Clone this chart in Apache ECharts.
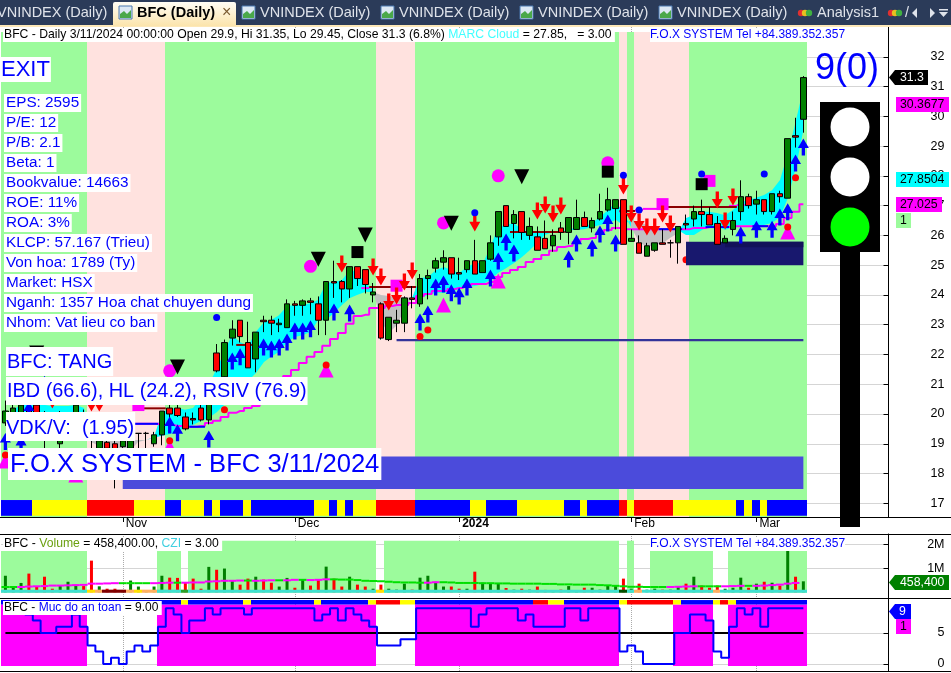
<!DOCTYPE html>
<html>
<head>
<meta charset="utf-8">
<title>BFC (Daily)</title>
<style>
html, body { margin: 0; padding: 0; background: #fff; }
#chart { width: 951px; height: 673px; }
</style>
<script src="https://cdn.jsdelivr.net/npm/echarts@6/dist/echarts.min.js"></script>
</head>
<body>
<div id="chart"></div>
<script>
// daily bars, oldest first. tail of the list is 3/11/2024
const opens = [19.7,19.8,19.95,20.15,20.3,19.95,19.8,19.0,19.2,19.8,19.95,19.65,18.85,19.05,19.0,18.9,18.85,19.35,19.35,19.0,19.3,20.2,20.2,19.9,19.85,20.2,19.8,22.05,21.25,22.55,23.15,22.4,21.85,23.15,23.15,23.0,22.9,23.7,23.65,23.8,23.7,23.15,24.45,24.45,24.2,24.95,24.85,24.0,23.7,22.5,23.05,23.05,23.9,23.7,24.55,24.9,25.1,25.25,24.75,24.85,25.15,24.75,25.2,25.95,27.0,26.4,26.8,26.0,25.95,25.9,25.65,26.25,26.1,26.2,26.6,26.25,26.55,26.85,26.9,27.2,25.8,25.75,25.3,25.5,25.75,25.75,25.75,26.4,26.55,26.8,26.7,26.4,25.75,26.2,26.8,27.3,27.05,27.2,26.8,27.4,27.25,29.35,29.9];
const highs = [20.45,20.35,20.45,20.25,20.4,20.1,19.95,20.1,20.0,20.55,20.15,19.75,19.25,19.15,19.1,19.25,19.25,19.35,19.4,19.4,20.1,20.35,20.35,20.05,20.05,20.4,21.15,22.35,22.5,23.15,23.15,23.1,22.75,23.3,23.3,23.2,23.85,23.8,23.85,23.9,23.95,24.45,25.15,24.5,24.95,24.95,24.85,24.4,23.75,23.25,23.5,23.95,24.3,24.7,24.85,25.25,25.5,25.25,25.25,25.15,25.85,25.15,26.0,26.8,27.0,26.85,26.8,26.6,26.3,26.5,26.2,26.45,26.6,27.2,26.8,26.6,27.4,27.6,27.2,27.2,26.2,26.0,25.75,25.75,26.2,25.85,26.3,26.7,27.0,27.2,26.95,26.65,26.0,26.8,27.85,27.4,27.5,27.2,27.4,27.5,29.25,29.95,31.35];
const lows = [19.6,19.7,19.8,19.75,19.8,18.85,19.15,18.8,19.1,19.65,19.25,18.85,18.8,18.75,17.5,18.7,18.75,18.85,18.85,18.9,18.95,19.85,19.9,19.45,19.65,19.75,19.65,21.4,21.15,22.3,22.4,21.55,21.4,22.75,22.65,22.75,22.9,23.3,23.3,23.35,22.65,22.65,23.9,23.75,23.9,24.3,24.05,23.75,22.5,22.45,22.75,22.75,23.55,23.6,23.85,24.75,24.85,24.55,24.5,24.75,24.7,24.75,25.15,25.65,26.3,25.9,25.85,25.85,25.5,25.55,25.45,25.85,25.7,26.2,26.3,26.1,26.5,26.8,26.2,25.7,25.8,25.4,25.3,25.45,25.7,25.25,25.05,26.2,26.3,26.3,26.35,25.7,25.75,26.0,26.5,26.9,26.7,26.7,26.7,27.1,27.25,28.95,29.45];
const closes = [20.1,20.2,20.3,19.85,19.9,19.45,19.35,19.15,19.85,20.3,19.45,19.15,19.1,18.85,18.45,19.1,19.1,19.35,19.35,19.3,20.1,20.0,19.95,19.5,19.8,19.8,20.95,21.45,22.4,22.85,22.6,21.55,22.75,23.1,23.05,23.05,23.7,23.65,23.8,23.75,23.15,24.45,24.4,24.2,24.95,24.55,24.35,24.1,22.55,23.25,23.15,23.9,23.85,24.55,24.65,25.15,25.25,24.7,24.7,25.15,24.7,25.15,25.75,26.8,26.3,26.7,26.1,26.3,25.5,25.55,26.0,26.1,26.6,26.6,26.3,26.5,26.8,27.2,27.2,25.7,25.9,25.4,25.65,25.75,25.7,25.75,26.3,26.35,26.8,26.7,26.35,25.7,25.9,26.5,27.3,27.0,27.2,26.8,27.4,27.3,29.25,29.3,31.3];

// MARC cloud edges, fast above slow paints cyan, below paints grey
const cloudFast = [19.97,20.14,20.30,20.34,20.34,20.30,20.27,20.27,20.27,20.30,20.20,19.06,18.93,18.79,18.73,18.73,18.79,19.06,19.13,19.23,20.07,20.17,20.20,20.14,20.20,20.54,20.98,21.55,22.05,22.65,22.42,22.29,22.76,23.09,23.16,23.32,23.63,23.66,23.66,23.73,23.83,24.40,24.43,24.50,24.84,24.77,24.40,24.17,23.09,22.72,22.99,23.49,23.90,24.57,24.60,24.84,24.94,24.84,24.74,24.94,25.07,25.07,25.58,26.28,26.35,26.42,26.18,26.11,26.08,26.11,26.11,26.15,26.18,26.28,26.28,26.42,26.62,26.85,27.12,26.79,26.28,25.78,25.61,25.68,25.74,25.91,26.08,26.58,26.68,26.79,26.79,26.75,26.68,26.85,27.12,27.19,27.26,27.36,27.52,27.86,28.77,29.87,30.88];
const cloudSlow = [19.63,19.63,19.63,19.60,19.53,19.47,19.43,19.40,19.37,19.33,19.27,19.27,19.23,19.20,19.17,19.13,19.13,19.13,19.13,19.20,19.27,19.33,19.43,19.53,19.63,19.77,19.87,20.07,20.30,20.57,20.84,21.11,21.38,21.75,21.92,22.09,22.42,22.59,22.65,22.76,23.16,23.16,23.39,23.66,23.90,24.00,24.10,24.10,24.00,23.96,23.93,23.93,23.90,23.90,24.00,24.07,24.07,24.10,24.20,24.27,24.30,24.37,24.50,24.74,24.90,25.07,25.27,25.51,25.74,26.01,26.11,26.11,26.18,26.18,26.21,26.28,26.35,26.42,26.52,26.35,26.52,26.45,26.35,26.25,26.21,26.18,26.18,26.01,26.01,26.18,26.28,26.31,26.18,26.28,26.35,26.35,26.35,26.35,26.42,26.62,27.26,28.30,29.47];

// stepped magenta average, nothing readable before bar 17
const stepAverage = [null,null,null,null,null,null,null,null,null,null,null,null,null,null,null,null,null,19.67,19.67,19.67,19.63,19.63,19.60,19.57,19.57,19.60,19.70,19.77,19.90,20.04,20.10,20.20,20.27,20.54,20.81,21.04,21.28,21.48,21.71,21.92,22.08,22.29,22.52,22.72,23.03,23.29,23.33,23.56,23.56,23.63,23.66,23.66,23.73,23.96,24.03,24.13,24.13,24.20,24.23,24.30,24.37,24.37,24.43,24.60,24.74,24.84,24.94,25.11,25.21,25.34,25.48,25.61,25.64,25.78,25.88,25.91,26.08,26.18,26.25,26.21,26.21,26.21,26.21,26.21,26.21,26.21,26.21,26.21,26.25,26.25,26.28,26.28,26.28,26.31,26.31,26.31,26.31,26.31,26.31,26.38,26.58,26.79,27.05];

// [first bar, last bar, price]
const resistLevels = [[18,20,20.19],[30,31,22.32],[47,52,24.27],[65,71,26.11],[79,80,26.82],[84,93,26.95]];
const blueLevels = [[17,19,19.67],[24,25,19.57],[84,86,26.21],[90,92,26.28],[96,97,26.31]];
const magentaLevels = [[46,46,24.23],[79,79,26.79],[80,80,26.82],[81,81,26.85],[82,83,26.89],[93,93,26.99],[94,94,27.02]];

// [first bar, last bar, top price, bottom price, kind]
const priceBlocks = [[15,102,18.57,17.48,'block'],[87,102,25.79,25.0,'navy'],[92,102,25.79,25.6,'navyDark'],[50,102,22.52,22.44,'floor']];

// [first bar, last bar, state]
const marketZones = [[0,10,'up'],[11,20,'down'],[21,47,'up'],[48,52,'down'],[53,78,'up'],[79,79,'down'],[80,80,'up'],[81,87,'down'],[88,102,'up']];
const trendStrip = [[0,3,'b'],[4,10,'y'],[11,16,'r'],[17,20,'y'],[21,22,'b'],[23,25,'y'],[26,26,'b'],[27,27,'y'],[28,30,'b'],[31,31,'y'],[32,39,'b'],[40,41,'y'],[42,42,'b'],[43,43,'y'],[44,44,'b'],[45,47,'y'],[48,52,'r'],[53,59,'b'],[60,61,'y'],[62,65,'b'],[66,71,'y'],[72,73,'b'],[74,74,'y'],[75,78,'b'],[79,79,'r'],[80,80,'y'],[81,85,'r'],[86,93,'y'],[94,94,'b'],[95,95,'y'],[96,96,'b'],[97,97,'y'],[98,102,'b']];

// [bar, price]
const buyArrows = [[0,19.08],[2,18.98],[3,20.14],[5,21.0],[21,19.63],[22,19.37],[26,19.16],[29,21.78],[30,21.92],[33,22.25],[34,22.18],[35,22.25],[36,22.42],[37,22.79],[38,22.79],[39,22.86],[42,23.43],[44,23.39],[53,23.09],[54,23.36],[55,24.27],[56,24.37],[57,24.07],[58,23.96],[59,24.27],[62,24.57],[63,25.14],[64,25.78],[65,25.41],[72,25.21],[73,25.74],[75,25.58],[76,26.05],[77,26.42],[78,25.74],[94,26.01],[96,26.21],[98,26.21],[99,26.62],[100,26.79],[101,28.43],[102,28.97]];
const sellArrows = [[6,20.47],[11,20.37],[12,20.37],[43,25.04],[47,24.94],[48,24.60],[49,23.76],[50,23.96],[51,24.43],[52,24.80],[60,26.42],[68,26.82],[69,27.02],[70,26.72],[71,26.99],[79,27.66],[80,26.72],[81,26.45],[82,26.28],[83,26.28],[84,26.72],[85,26.38],[91,27.19],[92,26.48],[93,27.29]];
const upTriangles = [[0,18.42],[9,17.95],[21,18.89],[41,21.48],[56,23.66],[63,24.47],[100,26.11]];
const downTriangles = [[4,22.05],[22,21.58],[40,25.2],[46,26.01],[57,26.41],[66,27.97]];
const magentaCircles = [[21,21.45],[39,24.96],[56,26.42],[63,28.0],[77,28.44]];
const blackSquares = [[45,25.44],[77,28.14],[89,27.72]];
const magentaSquares = [[17,20.3],[50,24.31],[84,27.05],[90,27.83]];
const redDots = [[0,18.62],[21,19.10],[28,20.14],[41,21.65],[53,22.60],[54,22.82],[87,25.18],[100,26.28],[101,27.94]];
const blueDots = [[27,23.24],[60,26.76],[79,28.02],[81,26.85],[89,28.06],[97,28.06]];

// volume pane, millions of shares
const volumes = [0.69,0.22,0.39,0.78,0.25,0.65,0.15,0.29,0.44,0.31,0.26,1.32,0.25,0.15,0.15,0.07,0.49,0.24,0.07,0.24,0.69,0.61,0.60,0.40,0.57,0.15,1.06,0.94,0.99,0.49,0.32,0.57,0.65,0.53,0.40,0.24,0.60,0.19,0.53,0.28,0.53,1.07,0.57,0.24,0.65,0.32,0.24,0.15,0.32,0.15,0.11,0.36,0.11,0.61,0.69,0.44,0.24,0.24,0.15,0.15,0.86,0.40,0.36,0.36,0.18,0.11,0.15,0.11,0.24,0.10,0.08,0.11,0.26,0.07,0.19,0.19,0.11,0.28,0.28,0.57,0.15,0.36,0.11,0.15,0.11,0.11,0.24,0.36,0.65,0.28,0.19,0.28,0.15,0.19,0.61,0.19,0.36,0.44,0.40,0.28,1.74,0.65,0.458];
const volumeAverage = [0.22,0.22,0.22,0.24,0.25,0.26,0.28,0.28,0.29,0.30,0.31,0.36,0.36,0.37,0.38,0.38,0.38,0.38,0.38,0.38,0.39,0.40,0.40,0.40,0.41,0.41,0.45,0.46,0.48,0.48,0.49,0.49,0.48,0.49,0.50,0.50,0.50,0.52,0.52,0.51,0.52,0.54,0.54,0.53,0.53,0.51,0.48,0.47,0.46,0.44,0.42,0.41,0.41,0.40,0.40,0.42,0.42,0.41,0.39,0.39,0.39,0.38,0.38,0.37,0.37,0.36,0.36,0.36,0.36,0.35,0.35,0.33,0.33,0.32,0.32,0.32,0.30,0.29,0.27,0.25,0.23,0.23,0.22,0.22,0.22,0.22,0.23,0.24,0.25,0.25,0.25,0.25,0.25,0.26,0.27,0.27,0.27,0.28,0.30,0.32,0.36,0.39,0.42];
const volumeZones = [[0,10,1.72],[20,22,1.72],[24,47,2.15],[49,78,2.15],[80,80,2.15],[83,90,1.72],[93,102,1.72]];
const cziBand = [[0,10,'t'],[11,11,'y'],[12,12,'o'],[13,15,'d'],[16,16,'o'],[17,17,'y'],[18,19,'o'],[20,22,'t'],[23,23,'g'],[24,47,'t'],[48,48,'y'],[49,78,'t'],[79,79,'k'],[80,80,'t'],[81,81,'o'],[82,90,'t'],[91,91,'o'],[92,102,'t']];

// safety score pane, 0 to 9
const safetyScore = [9,9,9,8,7,5,5,6,6,8,6,3,2,0,1,0,2,3,2,3,6,9,8,5,7,7,9,8,9,9,9,8,9,9,9,9,9,9,9,9,7,8,9,7,9,8,7,6,3,3,3,4,4,9,9,9,9,9,9,9,6,8,9,9,9,9,7,8,6,6,6,6,9,9,7,9,9,9,9,2,3,2,0,0,0,0,5,5,8,8,7,2,1,6,9,8,9,6,9,9,9,9,9];
const safetyMiddle = [5,5,5,5,5,5,5,5,5,5,5,5,5,5,5,5,5,5,5,5,5,5,5,5,5,5,5,5,5,5,5,5,5,5,5,5,5,5,5,5,5,5,5,5,5,5,5,5,5,5,5,5,5,5,5,5,5,5,5,5,5,5,5,5,5,5,5,5,5,5,5,5,5,5,5,5,5,5,5,5,5,5,5,5,5,5,5,5,5,5,5,5,5,5,5,5,5,5,5,5,5,5,5];
const safetyZones = [[0,10,'on'],[20,47,'on'],[53,78,'on'],[86,90,'on'],[93,102,'on']];
const safetyStrip = [[0,22,'b'],[23,23,'y'],[24,30,'b'],[31,31,'y'],[32,39,'b'],[40,40,'y'],[41,46,'b'],[47,47,'y'],[48,50,'r'],[51,52,'y'],[53,67,'b'],[68,69,'r'],[70,71,'y'],[72,78,'b'],[79,79,'y'],[80,85,'r'],[86,86,'y'],[87,90,'b'],[91,91,'y'],[92,92,'r'],[93,93,'y'],[94,102,'b']];

// axis labels
const monthBars = [15,37,58,80,96];
const monthLabels = ['Nov','Dec','2024','Feb','Mar'];
const priceTicks = [17,18,19,20,21,22,23,24,25,26,27,28,29,30,31,32];
const volumeTicks = [1,2];
const safetyTicks = [0,5];

// text
const statLines = ['EPS: 2595','P/E: 12','P/B: 2.1','Beta: 1','Bookvalue: 14663','ROE: 11%','ROA: 3%','KLCP: 57.167 (Trieu)','Von hoa: 1789 (Ty)','Market: HSX','Nganh: 1357 Hoa chat chuyen dung','Nhom: Vat lieu co ban'];
const tabLabels = ['VNINDEX (Daily)','BFC (Daily)','VNINDEX (Daily)','VNINDEX (Daily)','VNINDEX (Daily)','VNINDEX (Daily)','Analysis1'];

const BAR_SLOTS = 113; // 103 real bars + blank room on the right
const FONT = '"Liberation Sans", Arial, sans-serif';
const BLUE = '#0000ff';
const MAGENTA = '#ff00ff';

const zoneColors = { up: '#9cfb9c', down: '#ffe2df', on: '#ff00ff' };
const stripColors = { b: '#0000ff', y: '#ffff00', r: '#ff0000' };
const cziColors = { t: '#40e0d0', y: '#ffe000', o: '#ffb060', d: '#800000', g: '#2aa02a', k: '#005000' };
const blockColors = { block: '#4b4bdb', navy: '#18186e', navyDark: '#12125a', floor: '#333399' };

function runSeries(axis, runs, topOf, bottomOf, fillOf, z) {
    return {
        type: 'custom', xAxisIndex: axis, yAxisIndex: axis, z: z, silent: true, clip: false,
        data: runs.map(r => [r[0], topOf(r)]),
        renderItem(params, api) {
            const r = runs[params.dataIndex];
            const half = api.size([1, 0])[0] / 2;
            const a = api.coord([r[0], topOf(r)]);
            const b = api.coord([r[1], bottomOf(r)]);
            // edges sit about a pixel left of the band, only the outer two stay put
            const x0 = r[0] === 0 ? Math.round(a[0] - half) : Math.round(a[0] - half - 0.8);
            const x1 = r[1] === 102 ? Math.round(b[0] + half) : Math.round(b[0] + half - 0.8);
            return { type: 'rect', shape: { x: x0, y: a[1], width: x1 - x0, height: b[1] - a[1] }, style: { fill: fillOf(r) } };
        }
    };
}

// blocks run from bar centre to bar centre
function blockSeries(z) {
    return {
        type: 'custom', z: z, silent: true, clip: false,
        data: priceBlocks.map(r => [r[0], r[2]]),
        renderItem(params, api) {
            const r = priceBlocks[params.dataIndex];
            const a = api.coord([r[0], r[2]]);
            const b = api.coord([r[1], r[3]]);
            return { type: 'rect', shape: { x: a[0], y: a[1], width: b[0] - a[0], height: b[1] - a[1] }, style: { fill: blockColors[r[4]] } };
        }
    };
}

function levelSeries(levels, color, z) {
    return {
        type: 'custom', z: z, silent: true,
        data: levels.map(r => [r[0], r[2]]),
        renderItem(params, api) {
            const r = levels[params.dataIndex];
            const half = api.size([1, 0])[0] / 2;
            const a = api.coord([r[0], r[2]]);
            const b = api.coord([r[1], r[2]]);
            return { type: 'line', shape: { x1: a[0] - half, y1: a[1], x2: b[0] + half, y2: b[1] }, style: { stroke: color, lineWidth: 2 } };
        }
    };
}

function cloudSeries(z) {
    return {
        type: 'custom', z: z, silent: true,
        data: cloudFast.slice(0, -1).map((v, i) => [i, v]),
        renderItem(params, api) {
            const i = params.dataIndex;
            const a0 = api.coord([i, cloudFast[i]]);
            const a1 = api.coord([i + 1, cloudFast[i + 1]]);
            const b1 = api.coord([i + 1, cloudSlow[i + 1]]);
            const b0 = api.coord([i, cloudSlow[i]]);
            const x0 = Math.round(a0[0]);
            const x1 = Math.round(a1[0]);
            const bull = cloudFast[i] + cloudFast[i + 1] >= cloudSlow[i] + cloudSlow[i + 1];
            return {
                type: 'polygon',
                shape: { points: [[x0, a0[1]], [x1, a1[1]], [x1, b1[1]], [x0, b0[1]]] },
                style: { fill: bull ? '#00ffff' : '#c0c0c0' }
            };
        }
    };
}

function markerSeries(points, symbol, size, color, z) {
    return {
        type: 'scatter', data: points, symbol: symbol, symbolSize: size, z: z, silent: true,
        itemStyle: { color: color, opacity: 1 }
    };
}

function volumeAverageSeries() {
    return {
        type: 'custom', xAxisIndex: 1, yAxisIndex: 1, z: 5, silent: true,
        data: volumeAverage.slice(0, -1).map((v, i) => [i, v]),
        renderItem(params, api) {
            const i = params.dataIndex;
            const half = api.size([1, 0])[0] / 2;
            const a = api.coord([i, volumeAverage[i]]);
            const rising = volumeAverage[i + 1] > volumeAverage[i] || volumeAverage[i] > volumeAverage[Math.max(i - 1, 0)];
            return {
                type: 'line',
                shape: { x1: a[0] - half, y1: a[1], x2: a[0] + half, y2: a[1] },
                style: { stroke: rising ? MAGENTA : '#00e000', lineWidth: 2 }
            };
        }
    };
}

function tag(points, fill, label, textX, textY, textColor) {
    return [
        { type: 'polygon', z: 60, shape: { points: points }, style: { fill: fill } },
        { type: 'text', z: 61, x: textX, y: textY, style: { text: label, font: '12.3px ' + FONT, fill: textColor, verticalAlign: 'middle' } }
    ];
}

function boxedText(label, x, y, size, pad) {
    return {
        type: 'text', z: 50, x: x, y: y,
        style: { text: label, font: size + 'px ' + FONT, fill: BLUE, backgroundColor: '#fff', padding: pad }
    };
}

function tabIcon(x) {
    return [
        { type: 'rect', z: 41, shape: { x: x, y: 6, width: 13, height: 13 }, style: { fill: '#dce8f4', stroke: '#4a78b0', lineWidth: 1 } },
        { type: 'polygon', z: 42, shape: { points: [[x + 1, 18], [x + 1, 14], [x + 5, 11], [x + 8, 14], [x + 12, 10], [x + 12, 18]] }, style: { fill: '#4aa84a' } }
    ];
}

function buildGraphic() {
    const els = [];
    // tab strip
    els.push({ type: 'rect', z: 40, shape: { x: 0, y: 0, width: 951, height: 25 }, style: { fill: '#2b3b59' } });
    els.push({ type: 'rect', z: 40, shape: { x: 0, y: 25, width: 951, height: 2 }, style: { fill: '#fde8b8' } });
    els.push({
        type: 'rect', z: 41, shape: { x: 113, y: 2, width: 123, height: 24, r: [2, 2, 0, 0] },
        style: { fill: new echarts.graphic.LinearGradient(0, 0, 0, 1, [{ offset: 0, color: '#fffdf5' }, { offset: 1, color: '#fbe4ac' }]) }
    });
    const tabX = [-3, 137, 260, 399, 538, 677, 817];
    const iconX = [119, 242, 381, 520, 659];
    iconX.forEach(x => els.push(...tabIcon(x)));
    tabLabels.forEach((t, i) => {
        els.push({
            type: 'text', z: 43, x: tabX[i], y: 13,
            style: { text: t, font: (i === 1 ? 'bold ' : '') + '14.5px ' + FONT, fill: i === 1 ? '#000' : '#dfe3ea', verticalAlign: 'middle' }
        });
    });
    els.push({ type: 'text', z: 43, x: 222, y: 13, style: { text: '\u00d7', font: '16px ' + FONT, fill: '#7a5a30', verticalAlign: 'middle' } });
    [[801, '#e03030'], [805, '#e8c020'], [809, '#40b040'], [891, '#e03030'], [895, '#e8c020'], [899, '#40b040']].forEach(d => {
        els.push({ type: 'circle', z: 42, shape: { cx: d[0], cy: 13, r: 3.2 }, style: { fill: d[1] } });
    });
    els.push({ type: 'text', z: 43, x: 905, y: 13, style: { text: '/', font: '14.5px ' + FONT, fill: '#dfe3ea', verticalAlign: 'middle' } });
    els.push({ type: 'polygon', z: 42, shape: { points: [[912, 13], [917, 8], [917, 18]] }, style: { fill: '#dfe3ea' } });
    els.push({ type: 'polygon', z: 42, shape: { points: [[930, 8], [935, 13], [930, 18]] }, style: { fill: '#dfe3ea' } });
    els.push({ type: 'rect', z: 42, shape: { x: 939, y: 9, width: 9, height: 1.5 }, style: { fill: '#dfe3ea' } });
    els.push({ type: 'polygon', z: 42, shape: { points: [[939, 12], [948, 12], [943.5, 17]] }, style: { fill: '#dfe3ea' } });

    // pane separators
    [517, 534, 598, 671].forEach(y => {
        els.push({ type: 'rect', z: 30, shape: { x: 0, y: y, width: 951, height: 1 }, style: { fill: '#000' } });
    });

    // pane headers
    els.push({
        type: 'text', z: 50, x: 3, y: 28,
        style: {
            text: '{k|BFC - Daily 3/11/2024 00:00:00 Open 29.9, Hi 31.35, Lo 29.45, Close 31.3 (6.8%) }{c|MARC Cloud}{k| = 27.85,   = 3.00 }',
            backgroundColor: '#fff', padding: [1, 0, 1, 1],
            rich: { k: { fill: '#000', fontSize: 12.2, fontFamily: FONT }, c: { fill: '#40ffff', fontSize: 12.2, fontFamily: FONT } }
        }
    });
    els.push(boxedText('F.O.X SYSTEM Tel +84.389.352.357', 650, 28, 12, [1, 0, 1, 0]));
    els.push({
        type: 'text', z: 50, x: 3, y: 537,
        style: {
            text: '{k|BFC - }{v|Volume}{k| = 458,400.00, }{c|CZI}{k| = 3.00 }',
            backgroundColor: '#fff', padding: [1, 0, 1, 1],
            rich: { k: { fill: '#000', fontSize: 12.2, fontFamily: FONT }, v: { fill: '#6aa010', fontSize: 12.2, fontFamily: FONT }, c: { fill: '#40d0e0', fontSize: 12.2, fontFamily: FONT } }
        }
    });
    els.push(boxedText('F.O.X SYSTEM Tel +84.389.352.357', 650, 537, 12, [1, 0, 1, 0]));
    els.push({
        type: 'text', z: 50, x: 3, y: 601,
        style: {
            text: '{k|BFC - }{v|Muc do an toan}{k| = 9.00 }',
            backgroundColor: '#fff', padding: [1, 0, 1, 1],
            rich: { k: { fill: '#000', fontSize: 12, fontFamily: FONT }, v: { fill: BLUE, fontSize: 12, fontFamily: FONT } }
        }
    });

    // left hand info column
    els.push(boxedText('EXIT', 0, 57, 22, [2, 1, 1, 1]));
    statLines.forEach((t, i) => els.push(boxedText(t, 4, 94 + i * 20, 15.3, [1, 2, 2, 2])));
    els.push(boxedText('BFC: TANG', 6, 347, 20, [5, 1, 4, 1]));
    els.push(boxedText('IBD (66.6), HL (24.2), RSIV (76.9)', 6, 377, 19.9, [5, 1, 3, 1]));
    els.push(boxedText('VDK/V:  (1.95)', 6, 412, 20, [6, 1, 3, 0]));
    els.push(boxedText('F.O.X SYSTEM - BFC 3/11/2024', 8, 448, 25.6, [4, 2, 2, 2]));

    // signal
    els.push({ type: 'text', z: 50, x: 815, y: 51, style: { text: '9(0)', font: '36px ' + FONT, fill: BLUE } });
    els.push({ type: 'rect', z: 45, shape: { x: 820, y: 102, width: 60, height: 150 }, style: { fill: '#000' } });
    els.push({ type: 'rect', z: 45, shape: { x: 840, y: 252, width: 20, height: 275 }, style: { fill: '#000' } });
    els.push({ type: 'circle', z: 46, shape: { cx: 850, cy: 127, r: 19.5 }, style: { fill: '#fff' } });
    els.push({ type: 'circle', z: 46, shape: { cx: 850, cy: 177, r: 19.5 }, style: { fill: '#fff' } });
    els.push({ type: 'circle', z: 46, shape: { cx: 850, cy: 227, r: 19.5 }, style: { fill: '#00ff00' } });

    // price tags on the axis
    const box = (x, y, w, h) => [[x, y], [x + w, y], [x + w, y + h], [x, y + h]];
    const arrow = (y, w) => [[889, y], [895, y - 7.5], [889 + w, y - 7.5], [889 + w, y + 7.5], [895, y + 7.5]];
    els.push(...tag(arrow(77.5, 39), '#000', '31.3', 900, 78, '#fff'));
    els.push(...tag(box(896, 97, 53, 15), MAGENTA, '30.3677', 900, 105, '#000'));
    els.push(...tag(box(896, 172, 53, 15), '#00ffff', '27.8504', 900, 180, '#000'));
    els.push(...tag(box(896, 197, 46, 15), MAGENTA, '27.025', 900, 205, '#000'));
    els.push(...tag(box(896, 213, 15, 15), '#9cfb9c', '1', 900, 221, '#000'));
    els.push(...tag(arrow(582.5, 60), '#008000', '458,400', 900, 583, '#fff'));
    els.push(...tag(arrow(611.5, 22), BLUE, '9', 899, 612, '#fff'));
    els.push(...tag(box(896, 619, 15, 15), MAGENTA, '1', 900, 627, '#000'));
    return els;
}

class BfcChart {
    constructor(containerId) {
        this.containerId = containerId;
        this.chart = null;
    }

    init() {
        this.chart = echarts.init(document.getElementById(this.containerId), null, { renderer: 'canvas' });
        this.chart.setOption(this.buildOption());
    }

    xAxis(gridIndex, categories) {
        const isMonth = idx => monthBars.includes(idx);
        const dotted = { show: true, interval: isMonth, alignWithLabel: true, lineStyle: { color: '#aaa', type: 'dotted' } };
        if (gridIndex > 0) {
            return {
                type: 'category', gridIndex: gridIndex, data: categories, boundaryGap: true,
                axisLine: { show: false }, axisTick: { show: false }, axisLabel: { show: false },
                splitLine: dotted
            };
        }
        return {
            type: 'category', gridIndex: 0, data: categories, boundaryGap: true,
            axisLine: { show: false },
            axisTick: { show: true, interval: isMonth, alignWithLabel: true, length: 5, lineStyle: { color: '#000' } },
            axisLabel: {
                interval: isMonth, align: 'left', margin: 1, padding: [0, 0, 0, 3],
                color: '#000', fontFamily: FONT, fontSize: 12,
                formatter: (value, idx) => {
                    const text = monthLabels[monthBars.indexOf(idx)] || '';
                    return text === '2024' ? '{b|2024}' : text;
                },
                rich: { b: { fontWeight: 'bold', fontFamily: FONT, fontSize: 12, color: '#000' } }
            },
            splitLine: dotted
        };
    }

    yAxis(gridIndex, min, max, ticks, suffix) {
        return {
            type: 'value', gridIndex: gridIndex, position: 'right', offset: 3, min: min, max: max,
            axisLine: { show: true, lineStyle: { color: '#000' } },
            axisTick: { show: true, inside: true, length: 5, customValues: ticks, lineStyle: { color: '#000' } },
            axisLabel: {
                customValues: ticks, align: 'right', margin: 56, color: '#000',
                fontFamily: FONT, fontSize: 12.5, formatter: v => v + suffix
            },
            splitLine: { show: true, lineStyle: { color: '#aaa', type: 'dotted' } }
        };
    }

    buildOption() {
        const categories = Array.from({ length: BAR_SLOTS }, (_, i) => String(i));
        const candles = opens.map((o, i) => [o, closes[i], lows[i], highs[i]]);
        const upArrow = 'path://M5 0 L10 9 L6.5 9 L6.5 16 L3.5 16 L3.5 9 L0 9 Z';
        const downArrow = 'path://M3.5 0 L6.5 0 L6.5 7 L10 7 L5 16 L0 7 L3.5 7 Z';
        const downTri = 'path://M0 0 L10 0 L5 10 Z';

        return {
            backgroundColor: '#fff',
            animation: false,
            grid: [
                { left: 1.5, top: 27, width: 884, height: 490 },
                { left: 1.5, top: 534, width: 884, height: 64 },
                { left: 1.5, top: 598, width: 884, height: 73 }
            ],
            xAxis: [this.xAxis(0, categories), this.xAxis(1, categories), this.xAxis(2, categories)],
            yAxis: [
                this.yAxis(0, 16.54, 33, priceTicks, ''),
                this.yAxis(1, -0.2375, 2.43, volumeTicks, 'M'),
                this.yAxis(2, -1.13, 10.65, safetyTicks, '')
            ],
            graphic: { elements: buildGraphic() },
            series: [
                // main pane
                runSeries(0, marketZones, () => 32.83, () => 16.54, r => zoneColors[r[2]], 1),
                markerSeries(redDots.filter(p => p[0] === 87), 'circle', 7, '#ff0000', 2),
                blockSeries(3),
                runSeries(0, trendStrip, () => 17.11, () => 16.58, r => stripColors[r[2]], 4),
                cloudSeries(5),
                { type: 'line', data: stepAverage, step: 'middle', showSymbol: false, z: 6, silent: true, lineStyle: { color: MAGENTA, width: 2 } },
                levelSeries(magentaLevels, MAGENTA, 6),
                levelSeries(blueLevels, BLUE, 7),
                levelSeries(resistLevels, '#8b0000', 7),
                {
                    type: 'candlestick', data: candles, barWidth: 6, z: 8, silent: true,
                    itemStyle: { color: '#008000', color0: '#ff0000', borderColor: '#000', borderColor0: '#000', borderWidth: 1 }
                },
                markerSeries(magentaCircles, 'circle', 13, MAGENTA, 9),
                markerSeries(magentaSquares, 'rect', 12, MAGENTA, 9),
                markerSeries(upTriangles, 'triangle', [15, 15], MAGENTA, 9),
                markerSeries(downTriangles, downTri, [15, 15], '#000', 10),
                markerSeries(blackSquares, 'rect', 12, '#000', 10),
                markerSeries(buyArrows, upArrow, [11, 17], BLUE, 11),
                markerSeries(sellArrows, downArrow, [11, 17], '#ff0000', 11),
                markerSeries(redDots.filter(p => p[0] !== 87), 'circle', 7, '#ff0000', 12),
                markerSeries(blueDots, 'circle', 7, BLUE, 12),

                // volume pane
                runSeries(1, volumeZones, r => r[2], () => -0.02, () => zoneColors.up, 1),
                {
                    type: 'bar', xAxisIndex: 1, yAxisIndex: 1, barWidth: 3, z: 3, silent: true,
                    data: volumes.map((v, i) => ({ value: v, itemStyle: { color: closes[i] >= opens[i] ? '#008000' : '#ff0000' } }))
                },
                runSeries(1, cziBand, () => 0.11, () => -0.02, r => cziColors[r[2]], 4),
                volumeAverageSeries(),

                // safety pane
                runSeries(2, safetyZones, () => 9.6, () => -0.32, () => zoneColors.on, 1),
                runSeries(2, safetyStrip, () => 10.32, () => 9.6, r => stripColors[r[2]], 2),
                {
                    type: 'line', xAxisIndex: 2, yAxisIndex: 2, data: safetyMiddle, showSymbol: false, z: 3, silent: true,
                    lineStyle: { color: '#000', width: 2 }
                },
                {
                    type: 'line', xAxisIndex: 2, yAxisIndex: 2, data: safetyScore, step: 'middle', showSymbol: false, z: 4, silent: true,
                    lineStyle: { color: BLUE, width: 2 }
                }
            ]
        };
    }
}

const bfcChart = new BfcChart('chart');
bfcChart.init();
</script>
</body>
</html>
